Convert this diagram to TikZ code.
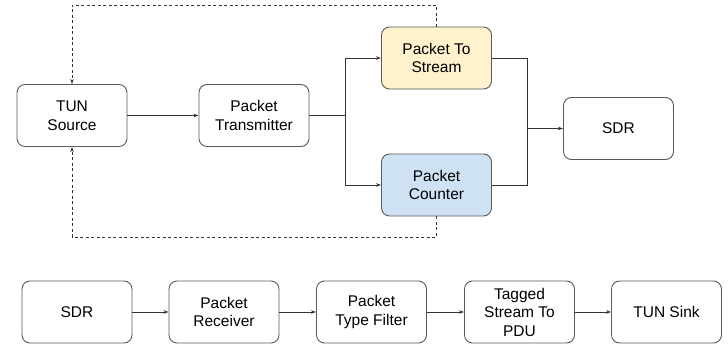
\documentclass[tikz,border=0pt]{standalone}
\usepackage{fontspec}
\setmainfont{Liberation Sans}
\usetikzlibrary{arrows.meta}
\definecolor{boxline}{HTML}{595959}
\definecolor{wirecol}{HTML}{333333}
\definecolor{ptsfill}{HTML}{FFF2CC}
\definecolor{pcfill}{HTML}{CFE2F3}
\tikzset{
  block/.style={draw=boxline, line width=0.9pt, rounded corners=8pt, fill=white,
    minimum width=110pt, minimum height=62pt, align=center,
    font=\fontsize{15.5}{18.5}\selectfont, inner sep=2pt},
  wire/.style={draw=wirecol, line width=0.8pt},
  flow/.style={wire, -{Stealth[length=5pt,width=3.5pt]}},
  fb/.style={flow, dashed, dash pattern=on 3pt off 2.5pt}
}
\begin{document}
\begin{tikzpicture}[x=1pt,y=-1pt]
\useasboundingbox (0,0) rectangle (728,345);
% transmit chain
\node[block] (tun) at (72,115.5) {TUN\\Source};
\node[block] (ptx) at (254,115.5) {Packet\\Transmitter};
\node[block, fill=ptsfill] (pts) at (436.5,58) {Packet To\\Stream};
\node[block, fill=pcfill] (pc) at (436.5,185) {Packet\\Counter};
\node[block] (sdr) at (618.5,128.5) {SDR};
\coordinate (split) at (345,115.5);
\coordinate (merge) at (527,128.5);
\coordinate (fbtop) at (0,5);
\coordinate (fbbot) at (0,237);

\draw[flow] (tun) -- (ptx);
\draw[wire] (ptx) -- (split);
\draw[flow] (split) |- (pts.west);
\draw[flow] (split) |- (pc.west);
\draw[wire] (pts.east) -| (merge);
\draw[wire] (pc.east) -| (merge);
\draw[flow] (merge) -- (sdr);

% feedback to the source
\draw[fb] (pts.north) -- (pts.north |- fbtop) -- (tun.north |- fbtop) -- (tun.north);
\draw[fb] (pc.south) -- (pc.south |- fbbot) -- (tun.south |- fbbot) -- (tun.south);

% receive chain
\node[block] (sdr2) at (77,312) {SDR};
\node[block] (prx) at (224,312) {Packet\\Receiver};
\node[block] (ptf) at (371.5,312) {Packet\\Type Filter};
\node[block] (ts2p) at (519.5,312) {Tagged\\Stream To\\PDU};
\node[block] (sink) at (666.5,312) {TUN Sink};
\draw[flow] (sdr2) -- (prx);
\draw[flow] (prx) -- (ptf);
\draw[flow] (ptf) -- (ts2p);
\draw[flow] (ts2p) -- (sink);
\end{tikzpicture}
\end{document}
